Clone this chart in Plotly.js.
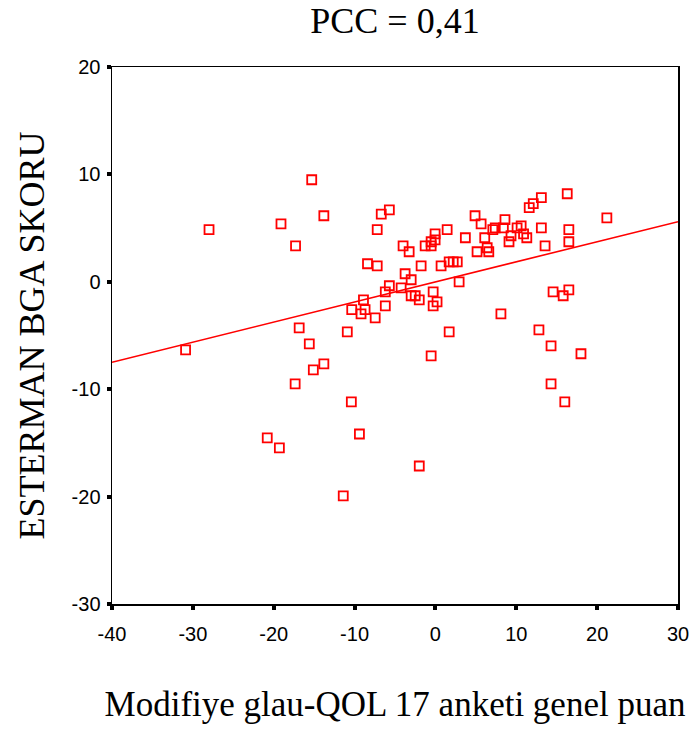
<!DOCTYPE html>
<html>
<head>
<meta charset="utf-8">
<script src="https://cdn.plot.ly/plotly-3.0.1.min.js"></script>
<style>html,body{margin:0;padding:0;background:#fff;}#chart{width:692px;height:731px;}</style>
</head>
<body>
<div id="chart"></div>
<script>
// Modifiye glau-QOL 17 anketi genel puan (x)
const qolScore = [
  -15.3, -5.7, -6.7, -13.8, -19.1, -28.0, -7.2, -17.3, -8.4, -7.2,
  -5.7, -6.2, -8.9, -10.35, -8.7, -6.2, -9.2, -7.45, -16.85, -10.9,
  -30.9, -15.6, -13.8, -15.1, -17.35, -10.4, -9.4, -20.8, -19.3, -11.4,
  1.7, -0.53, -2.0, -0.28, 0.2, 8.1, 12.8, 14.3, 18.0, 14.3,
  16.0, 16.3, 13.1, 12.1, 11.6, 21.2, 4.9, 5.65, 8.6, 7.1,
  7.4, 8.4, 10.1, 10.6, 13.1, 16.5, 1.45, -0.04, -0.04, -0.53,
  -0.53, -1.27, 3.7, 6.1, 9.35, 10.9, 11.3, 9.1, 16.5, 13.56,
  6.4, 6.6, 5.15, -4.0, -3.25, -1.77, 0.7, 1.7, 2.2, 2.7,
  -3.75, -3.0, 2.93, -4.24, -0.28, -3.0, -2.5, -2.0, 14.55, 15.8,
  16.5
];
// ESTERMAN BGA SKORU (y)
const estermanScore = [
  9.5, 6.7, 6.3, 6.15, 5.4, 4.85, 4.85, 3.35, 1.68, 1.49,
  -0.37, -0.93, -1.68, -2.6, -2.6, -2.24, -2.98, -3.36, -4.29, -4.66,
  -6.34, -5.78, -7.64, -8.2, -9.5, -11.18, -14.17, -14.54, -15.47, -19.94,
  -4.66, -6.9, -17.15, -2.24, -1.86, -2.98, -4.47, -5.96, -6.7, -9.5,
  -11.18, 8.2, 7.83, 7.27, 6.9, 5.96, 6.15, 5.4, 5.78, 4.85,
  5.03, 5.03, 5.03, 5.2, 5.03, 4.85, 4.85, 4.47, 3.9, 3.73,
  3.35, 3.35, 4.1, 4.1, 4.29, 4.47, 4.1, 3.73, 3.73, 3.35,
  3.17, 2.8, 2.8, 3.35, 2.8, 1.49, 1.49, 1.86, 1.86, 1.86,
  0.75, 0.19, 0.0, -0.56, -0.93, -1.3, -1.3, -1.68, -0.93, -1.3,
  -0.75
];
// Linear fit line
const fitSlope = 0.187;
const fitIntercept = -0.01;
const xRange = [-40, 30];
const yRange = [-30, 20];
const xTicks = [-40, -30, -20, -10, 0, 10, 20, 30];
const yTicks = [-30, -20, -10, 0, 10, 20];

const fitX = xRange.slice();
const fitY = fitX.map(v => fitSlope * v + fitIntercept);

const traces = [
  {
    x: fitX, y: fitY, type: 'scatter', mode: 'lines',
    line: {color: '#ff0000', width: 1.6},
    hoverinfo: 'skip', showlegend: false
  },
  {
    x: qolScore, y: estermanScore, type: 'scatter', mode: 'markers',
    marker: {symbol: 'square-open', size: 9, color: '#ff0000', line: {color: '#ff0000', width: 1.8}},
    showlegend: false
  }
];

const axisCommon = {
  showgrid: false, zeroline: false,
  showline: true, linecolor: '#000', linewidth: 1.5, mirror: true,
  ticks: 'outside', ticklen: 4, tickwidth: 4, tickcolor: '#000',
  tickfont: {family: 'Liberation Sans, Arial, sans-serif', size: 20, color: '#000'}
};

const layout = {
  width: 692, height: 731,
  margin: {l: 112, r: 14, t: 67, b: 127},
  paper_bgcolor: '#fff', plot_bgcolor: '#fff',
  title: {
    text: 'PCC = 0,41',
    font: {family: 'Liberation Serif, Times New Roman, serif', size: 36, color: '#000'},
    x: 0.5, xref: 'paper', xanchor: 'center',
    y: 0.972, yref: 'container', yanchor: 'middle'
  },
  xaxis: Object.assign({}, axisCommon, {
    range: xRange, tickvals: xTicks, ticktext: xTicks.map(String),
    ticklabelstandoff: 7,
    title: {text: 'Modifiye glau-QOL 17 anketi genel puan',
      font: {family: 'Liberation Serif, Times New Roman, serif', size: 35, color: '#000'},
      standoff: 48}
  }),
  yaxis: Object.assign({}, axisCommon, {
    range: yRange, tickvals: yTicks, ticktext: yTicks.map(String),
    ticklabelstandoff: 2,
    title: {text: 'ESTERMAN BGA SKORU',
      font: {family: 'Liberation Serif, Times New Roman, serif', size: 36, color: '#000'},
      standoff: 16}
  })
};

Plotly.newPlot('chart', traces, layout, {displayModeBar: false, staticPlot: true});
</script>
</body>
</html>
